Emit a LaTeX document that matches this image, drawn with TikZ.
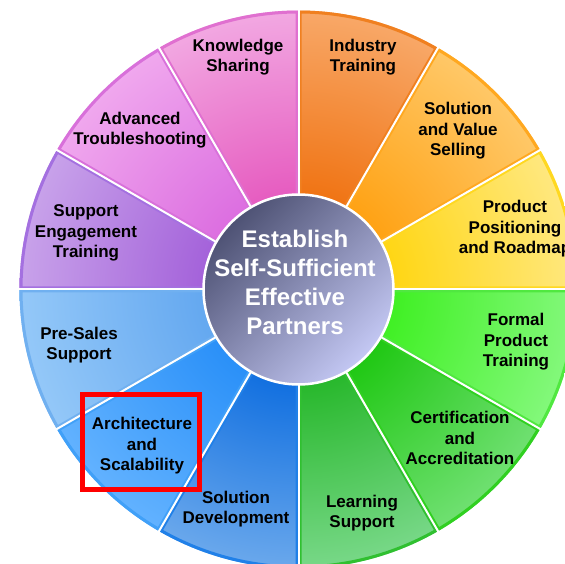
\documentclass[tikz,border=0pt]{standalone}
\usepackage{fontspec}
\setmainfont{Liberation Sans}

% sector fill: saturated near the hub, lighter towards the rim
\colorlet{secin}{black}
\colorlet{secout}{white}
\pgfdeclareradialshading[secin,secout]{wheelshade}{\pgfpoint{0bp}{0bp}}{%
  color(0bp)=(secin); color(8.5bp)=(secin); color(25bp)=(secout); color(50bp)=(secout)}

% sector colours: inner, outer, rim
\definecolor{ksIn}{HTML}{E65CC0}\definecolor{ksOut}{HTML}{F2A8E2}\definecolor{ksRim}{HTML}{E070D0}
\definecolor{atIn}{HTML}{DC6EE0}\definecolor{atOut}{HTML}{F0A8EE}\definecolor{atRim}{HTML}{D870DA}
\definecolor{seIn}{HTML}{A462DA}\definecolor{seOut}{HTML}{C8A2EA}\definecolor{seRim}{HTML}{A470E0}
\definecolor{itIn}{HTML}{F07414}\definecolor{itOut}{HTML}{F8A868}\definecolor{itRim}{HTML}{F08020}
\definecolor{svIn}{HTML}{FFA214}\definecolor{svOut}{HTML}{FFC868}\definecolor{svRim}{HTML}{FFA820}
\definecolor{ppIn}{HTML}{FFD614}\definecolor{ppOut}{HTML}{FFE880}\definecolor{ppRim}{HTML}{FFD820}
\definecolor{fpIn}{HTML}{40F024}\definecolor{fpOut}{HTML}{84F87C}\definecolor{fpRim}{HTML}{50E840}
\definecolor{caIn}{HTML}{20C814}\definecolor{caOut}{HTML}{70E072}\definecolor{caRim}{HTML}{30D020}
\definecolor{lsIn}{HTML}{28B82C}\definecolor{lsOut}{HTML}{78D888}\definecolor{lsRim}{HTML}{30C030}
\definecolor{psIn}{HTML}{64A8F0}\definecolor{psOut}{HTML}{94C8F8}\definecolor{psRim}{HTML}{70B0F0}
\definecolor{asIn}{HTML}{2A90F8}\definecolor{asOut}{HTML}{62B2FF}\definecolor{asRim}{HTML}{40A0F8}
\definecolor{sdIn}{HTML}{1270E0}\definecolor{sdOut}{HTML}{6AA8EC}\definecolor{sdRim}{HTML}{2080E8}
\definecolor{hubTop}{HTML}{4E5274}
\definecolor{hubMid}{HTML}{868CB6}
\definecolor{hubBot}{HTML}{C4C8F4}

\newcommand\wheelR{279}
% #1 start angle, #2 end angle, #3 inner colour, #4 outer colour, #5 rim colour
\newcommand\wheelsector[5]{%
  \begin{scope}
    \colorlet{secin}{#3}\colorlet{secout}{#4}
    \clip (hub) -- ++(#1:\wheelR) arc[start angle=#1, end angle=#2, radius=\wheelR] -- cycle;
    \shade[shading=wheelshade] (hub) circle[radius=\wheelR];
    \draw[line width=6, #5] (hub) -- ++(#1:\wheelR) arc[start angle=#1, end angle=#2, radius=\wheelR] -- cycle;
  \end{scope}}

\begin{document}
\begin{tikzpicture}[x=1pt, y=1pt,
  seclabel/.style={align=center, text=black, inner sep=0pt,
    font=\fontsize{17}{20.5}\selectfont\bfseries},
  hubtext/.style={align=center, text=white, inner sep=0pt,
    font=\fontsize{24}{29}\selectfont\bfseries},
  focusbox/.style={draw=red, line width=5.5, inner sep=0pt,
    minimum width=117, minimum height=95}]

\useasboundingbox (0,0) rectangle (565,563);
\clip (0,0) rectangle (565,563);
\fill[white] (0,0) rectangle (565,563);

\coordinate (hub) at (298.5,273.5);

% the twelve sectors, three per quadrant
\wheelsector{90}{120}{ksIn}{ksOut}{ksRim}
\wheelsector{120}{150}{atIn}{atOut}{atRim}
\wheelsector{150}{180}{seIn}{seOut}{seRim}
\wheelsector{60}{90}{itIn}{itOut}{itRim}
\wheelsector{30}{60}{svIn}{svOut}{svRim}
\wheelsector{0}{30}{ppIn}{ppOut}{ppRim}
\wheelsector{330}{360}{fpIn}{fpOut}{fpRim}
\wheelsector{300}{330}{caIn}{caOut}{caRim}
\wheelsector{270}{300}{lsIn}{lsOut}{lsRim}
\wheelsector{180}{210}{psIn}{psOut}{psRim}
\wheelsector{210}{240}{asIn}{asOut}{asRim}
\wheelsector{240}{270}{sdIn}{sdOut}{sdRim}

% white gaps between sectors
\foreach \a in {0,30,...,330}
  \draw[white, line width=2] (hub) -- ++(\a:285);

% hub
\shade[top color=hubTop, middle color=hubMid, bottom color=hubBot, shading angle=45]
  (hub) circle[radius=95];
\draw[white, line width=2.5] (hub) circle[radius=95];
\node[hubtext] (goal) at (295,281) {Establish\\Self-Sufficient\\Effective\\Partners};

% sector labels
\node[seclabel] (knowledge) at (238,506) {Knowledge\\Sharing};
\node[seclabel] (trouble) at (140,433) {Advanced\\Troubleshooting};
\node[seclabel] (engage) at (86,330) {Support\\Engagement\\Training};
\node[seclabel] (industry) at (363,506) {Industry\\Training};
\node[seclabel] (selling) at (458,432) {Solution\\and Value\\Selling};
\node[seclabel] (roadmap) at (515,334) {Product\\Positioning\\and Roadmap};
\node[seclabel] (formal) at (516,221) {Formal\\Product\\Training};
\node[seclabel] (certify) at (460,125) {Certification\\and\\Accreditation};
\node[seclabel] (learning) at (362,50) {Learning\\Support};
\node[seclabel] (presales) at (79,218) {Pre-Sales\\Support};
\node[seclabel] (arch) at (142,117) {Architecture\\and\\Scalability};
\node[seclabel] (soldev) at (236,54) {Solution\\Development};

% highlight frame
\node[focusbox] (focus) at (141,121) {};
\end{tikzpicture}
\end{document}
